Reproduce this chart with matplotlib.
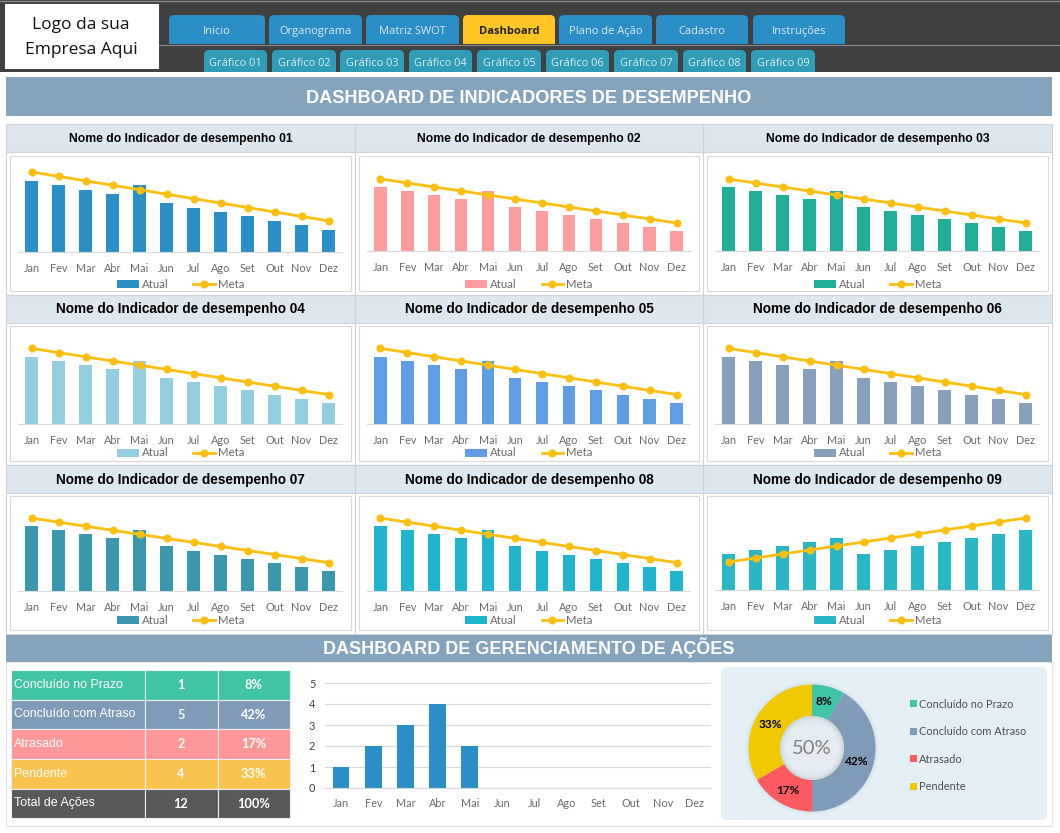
import matplotlib

matplotlib.use("Agg")
import matplotlib.pyplot as plt
from matplotlib.lines import Line2D
from matplotlib.patches import Circle, FancyBboxPatch, Patch, Rectangle


W, H = 1060, 833

MONTHS = ["Jan", "Fev", "Mar", "Abr", "Mai", "Jun", "Jul", "Ago", "Set", "Out", "Nov", "Dez"]
ATUAL = [16, 15, 14, 13, 15, 11, 10, 9, 8, 7, 6, 5]
META = [18, 17, 16, 15, 14, 13, 12, 11, 10, 9, 8, 7]
ATUAL_09 = [9, 10, 11, 12, 13, 9, 10, 11, 12, 13, 14, 15]
META_09 = [7, 8, 9, 10, 11, 12, 13, 14, 15, 16, 17, 18]
BAR_COLORS = ["#2A8FC6", "#FF9C9F", "#1FAE97", "#93CFE0", "#5F9EE6",
              "#87A0BB", "#3A97AE", "#1FB5CF", "#2AB7C5"]

MAIN_TABS = ["Início", "Organograma", "Matriz SWOT", "Dashboard", "Plano de Ação", "Cadastro", "Instruções"]
MAIN_TAB_X = [(169, 265), (269, 362), (366, 459), (463, 555), (559, 652), (656, 748), (753, 845)]
SUB_TABS = ["Gráfico 01", "Gráfico 02", "Gráfico 03", "Gráfico 04", "Gráfico 05",
            "Gráfico 06", "Gráfico 07", "Gráfico 08", "Gráfico 09"]
SUB_TAB_X = [(204, 267), (272, 336), (340, 404), (409, 472), (477, 541),
             (546, 609), (614, 678), (683, 746), (751, 815)]

STATUS = ["Concluído no Prazo", "Concluído com Atraso", "Atrasado", "Pendente"]
STATUS_COUNT = [1, 5, 2, 4]
STATUS_PCT = ["8%", "42%", "17%", "33%"]
TABLE_COLORS = ["#41C4A6", "#7F9BB8", "#FF9799", "#F9C34F"]
PIE_COLORS = ["#41C4A6", "#7F9BB8", "#FF5A5F", "#EFC800"]
ACTIONS = [1, 2, 3, 4, 2, 0, 0, 0, 0, 0, 0, 0]

# pixel layout of the nine small charts, they are not quite equal in the reference
COL_X = [(6, 355), (355, 703), (703, 1052)]
ROW_Y = [(124, 152, 156, 291), (295, 323, 326, 461), (465, 493, 496, 630)]
PLOT_BASE = [252, 251, 251, 424, 424, 424, 591, 591, 590]
PLOT_HEIGHT = [89, 80, 80, 84, 84, 84, 81, 81, 80]
LEGEND_Y = [284, 453, 620]

TITLE_FONT = "Liberation Sans"
CHART_FONT = "Lato"
TAB_FONT = "Open Sans"


def px_axes(fig, x0, y0, x1, y1):
    return fig.add_axes([x0 / W, 1 - y1 / H, (x1 - x0) / W, (y1 - y0) / H])


def rect(ax, x0, y0, x1, y1, color, edge="none", lw=0.0):
    ax.add_patch(Rectangle((x0, y0), x1 - x0, y1 - y0, facecolor=color, edgecolor=edge, linewidth=lw))


def tab(ax, x0, y0, x1, y1, color, r=5):
    # rounded box runs past the bottom edge and is clipped there, so only the top is round
    box = FancyBboxPatch((x0 + r, y0 + r), x1 - x0 - 2 * r, y1 - y0, boxstyle=f"round,pad={r}",
                         facecolor=color, edgecolor="none")
    ax.add_patch(box)
    box.set_clip_path(Rectangle((x0, y0), x1 - x0, y1 - y0, transform=ax.transData))


def draw_chrome(bg):
    rect(bg, 0, 0, W, 72, "#404040")
    bg.plot([0, W], [1, 1], color="#8A8A8A", lw=1)
    bg.plot([159, W], [44.5, 44.5], color="#8C8C8C", lw=0.8)
    rect(bg, 0, 72, W, H, "white")

    rect(bg, 5, 4, 159, 69, "white")
    bg.text(81, 25, "Logo da sua", ha="center", va="center", fontsize=12.5, family=TAB_FONT, color="#111111")
    bg.text(81, 50, "Empresa Aqui", ha="center", va="center", fontsize=12.5, family=TAB_FONT, color="#111111")

    for name, (x0, x1) in zip(MAIN_TABS, MAIN_TAB_X):
        active = name == "Dashboard"
        tab(bg, x0, 15, x1, 44, "#FFC525" if active else "#2A8FC6")
        bg.text((x0 + x1) / 2, 31.5, name, ha="center", va="center", fontsize=8.0, family=TAB_FONT,
                color="#222222" if active else "#DCEAF2", fontweight="bold" if active else "normal")
    for name, (x0, x1) in zip(SUB_TABS, SUB_TAB_X):
        tab(bg, x0, 50, x1, 72, "#2E9DB5")
        bg.text((x0 + x1) / 2, 63, name, ha="center", va="center", fontsize=7.9, family=TAB_FONT, color="#DCEEF2")

    rect(bg, 6, 77, 1052, 116, "#84A3BD")
    bg.text(529, 98, "DASHBOARD DE INDICADORES DE DESEMPENHO", ha="center", va="center",
            fontsize=13.1, family=TITLE_FONT, fontweight="bold", color="white")
    rect(bg, 6, 634, 1052, 662, "#84A3BD")
    bg.text(529, 648, "DASHBOARD DE GERENCIAMENTO DE AÇÕES", ha="center", va="center",
            fontsize=13.0, family=TITLE_FONT, fontweight="bold", color="white")
    rect(bg, 6, 662, 1052, 826, "white", edge="#E2E2E2", lw=0.8)


def indicator_chart(fig, bg, idx):
    x0, x1 = COL_X[idx % 3]
    head0, head1, box0, box1 = ROW_Y[idx // 3]
    rect(bg, x0, head0, x1, head1, "#DEE6EE", edge="#CDD3DA", lw=0.8)
    rect(bg, x0, head1, x1, box1 + 4, "white", edge="#CDD3DA", lw=0.8)
    rect(bg, x0 + 4, box0, x1 - 4, box1, "white", edge="#D9D9D9", lw=0.8)
    bg.text((x0 + x1) / 2, (head0 + head1) / 2 + 0.5, f"Nome do Indicador de desempenho {idx + 1:02d}",
            ha="center", va="center", fontsize=8.7 if idx < 3 else 9.8, family=TITLE_FONT, fontweight="bold",
            color="black")

    base = PLOT_BASE[idx]
    ax = px_axes(fig, x0 + 12, base - PLOT_HEIGHT[idx], x1 - 13, base)
    atual, meta = (ATUAL_09, META_09) if idx == 8 else (ATUAL, META)
    color = BAR_COLORS[idx]
    pos = range(len(MONTHS))
    ax.bar(pos, atual, width=0.46, color=color, zorder=2)
    ax.plot(pos, meta, color="#FDBF0F", lw=2.0, marker="o", ms=4.8, zorder=3)
    ax.set_xlim(-0.5, 11.5)
    ax.set_ylim(0, 20)
    ax.set_xticks(list(pos), MONTHS, fontsize=7.8, family=CHART_FONT, color="#6A6A6A")
    ax.set_yticks([])
    ax.tick_params(axis="x", length=0, pad=8)
    for side in ["top", "left", "right"]:
        ax.spines[side].set_visible(False)
    ax.spines["bottom"].set_color("#D9D9D9")
    ax.patch.set_alpha(0)

    handles = [Patch(facecolor=color), Line2D([], [], color="#FDBF0F", lw=2.0, marker="o", ms=4.8)]
    fig.legend(handles, ["Atual", "Meta"], ncol=2, loc="center", frameon=False,
               bbox_to_anchor=((x0 + x1) / 2 / W, 1 - LEGEND_Y[idx // 3] / H),
               prop={"family": CHART_FONT, "size": 8.2}, labelcolor="#6A6A6A",
               handlelength=1.9, handletextpad=0.25, columnspacing=2.2, borderpad=0)


def draw_table(bg):
    cols = [11, 144.5, 217.5, 290]
    rows = [670, 699.5, 729, 759, 788.5, 818]
    names = STATUS + ["Total de Ações"]
    counts = STATUS_COUNT + [sum(STATUS_COUNT)]
    pcts = STATUS_PCT + ["100%"]
    colors = TABLE_COLORS + ["#595959"]
    for i in range(5):
        y0, y1 = rows[i], rows[i + 1]
        ym = (y0 + y1) / 2
        for j in range(3):
            rect(bg, cols[j], y0, cols[j + 1], y1, colors[i], edge="#E8EEF2", lw=0.8)
        bg.text(cols[0] + 3, ym, names[i], ha="left", va="center", fontsize=8.9, family=TITLE_FONT, color="white")
        bg.text((cols[1] + cols[2]) / 2, ym + 0.5, str(counts[i]), ha="center", va="center", fontsize=9.2,
                family=CHART_FONT, fontweight="bold", color="white")
        bg.text((cols[2] + cols[3]) / 2, ym + 0.5, pcts[i], ha="center", va="center", fontsize=9.2,
                family=CHART_FONT, fontweight="bold", color="white")


def draw_actions(fig):
    ax = px_axes(fig, 325, 683, 711, 788)
    pos = range(len(MONTHS))
    ax.bar(pos, ACTIONS, width=0.52, color="#2A8FC6", zorder=2)
    ax.set_xlim(-0.5, 11.5)
    ax.set_ylim(0, 5)
    ax.set_yticks(range(6))
    ax.grid(axis="y", color="#D9D9D9", lw=0.8, zorder=0)
    ax.set_xticks(list(pos), MONTHS, fontsize=7.8, family=CHART_FONT, color="#6A6A6A")
    ax.tick_params(axis="x", length=0, pad=7.5)
    ax.tick_params(axis="y", length=0, pad=7, labelsize=7.8, labelcolor="#404040")
    for label in ax.get_yticklabels():
        label.set_family(CHART_FONT)
    for side in ["top", "left", "right"]:
        ax.spines[side].set_visible(False)
    ax.spines["bottom"].set_color("#D9D9D9")


def draw_donut(fig, bg):
    bg.add_patch(FancyBboxPatch((727, 673), 314, 141, boxstyle="round,pad=6", facecolor="#E3EEF5", edgecolor="none"))
    ax = px_axes(fig, 742, 678, 882, 818)
    # soft shadow around the ring
    for r, a in [(1.05, 0.04), (1.03, 0.05), (1.015, 0.06)]:
        ax.add_patch(Circle((0, 0), r * 63.5 / 70, color="#8FA6B8", alpha=a, lw=0))
    wedges, _ = ax.pie(STATUS_COUNT, colors=PIE_COLORS, startangle=90, counterclock=False,
                       radius=63.5 / 70, wedgeprops={"width": 31.5 / 70, "linewidth": 0})
    # the hole fades from a faint shadow at its rim to the panel colour
    for r, c in [(32, "#CBD6DE"), (31, "#D2DCE3"), (30, "#D8E1E7"), (29, "#DDE6EB"), (28, "#E1E9EE"), (26, "#E5ECF1")]:
        ax.add_patch(Circle((0, 0), r / 70, color=c, lw=0))
    ax.set_xlim(-1, 1)
    ax.set_ylim(-1, 1)
    ax.text(0.0, 0.0, "50%", ha="center", va="center", fontsize=14.5, family=CHART_FONT, color="#7F7F7F")
    # label spots are set by hand, in the reference they do not sit on the slice middles
    spots = [(0.17, 0.66), (0.64, -0.19), (-0.34, -0.6), (-0.6, 0.33)]
    for pct, (sx, sy) in zip(STATUS_PCT, spots):
        ax.text(sx, sy, pct, ha="center", va="center", fontsize=8.6,
                family=CHART_FONT, fontweight="bold", color="black")
    fig.legend(wedges, STATUS, loc="center left", frameon=False,
               bbox_to_anchor=(910 / W, 1 - 745.5 / H), prop={"family": CHART_FONT, "size": 7.9},
               labelcolor="#505050", handlelength=0.6, handleheight=0.6, handletextpad=0.2,
               labelspacing=1.5, borderpad=0, borderaxespad=0)


def main():
    fig = plt.figure(figsize=(W / 100, H / 100), dpi=100, facecolor="white")
    bg = fig.add_axes([0, 0, 1, 1])
    bg.set_xlim(0, W)
    bg.set_ylim(H, 0)
    bg.axis("off")

    draw_chrome(bg)
    for i in range(9):
        indicator_chart(fig, bg, i)
    draw_table(bg)
    draw_actions(fig)
    draw_donut(fig, bg)

    fig.savefig("out.png", dpi=100)
    plt.close(fig)


if __name__ == "__main__":
    main()
